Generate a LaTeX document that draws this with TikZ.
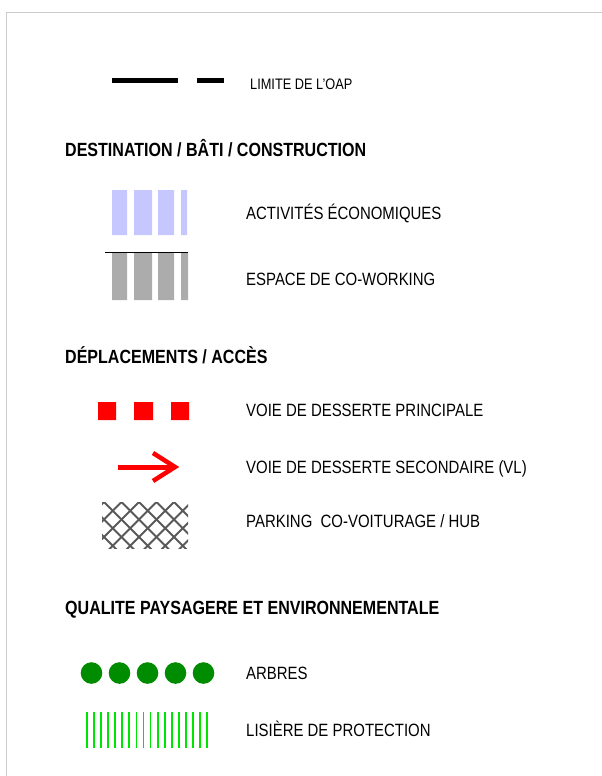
\documentclass[tikz,border=0pt]{standalone}
\usepackage{fontspec}
\setmainfont{Liberation Sans}[FakeStretch=0.84]

\begin{document}
\begin{tikzpicture}[x=1pt,y=-1pt,line cap=butt,
  label/.style={anchor=base west,inner sep=0pt,font=\fontsize{17.8}{17.8}\selectfont},
  heading/.style={anchor=base west,inner sep=0pt,font=\fontsize{19.1}{19.1}\selectfont\bfseries}]
\useasboundingbox (0,0) rectangle (602,776);
\draw[gray!40,line width=1pt] (6.5,776) -- (6.5,12.5) -- (602,12.5);

% limite
\draw[line width=5pt] (112,80) -- (178,80) (197,80) -- (224,80);
\node[label,font=\fontsize{15.2}{15.2}\selectfont] (oap) at (250,89.5) {LIMITE DE L'OAP};

% destination
\node[heading] (dest) at (65,156) {DESTINATION / BÂTI / CONSTRUCTION};
\fill[blue!22!white]
(112,190) rectangle (127,235)
(134,190) rectangle (152,235)
(158,190) rectangle (174,235)
(181,190) rectangle (187,235);
\node[label] (eco) at (246,219.5) {ACTIVITÉS ÉCONOMIQUES};
\fill[gray!65]
(112,252) rectangle (127,300)
(134,252) rectangle (152,300)
(158,252) rectangle (174,300)
(181,252) rectangle (188,300);
\draw[line width=1pt] (105,252) -- (188,252);
\node[label] (cowork) at (246,285.5) {ESPACE DE CO-WORKING};

% deplacements
\node[heading] (depl) at (65,363) {DÉPLACEMENTS / ACCÈS};
\fill[red]
(98,402) rectangle (116,420)
(134,402) rectangle (153,420)
(171,402) rectangle (189,420);
\node[label] (princ) at (246,416.5) {VOIE DE DESSERTE PRINCIPALE};
\draw[red,line width=5pt] (118,467) -- (174,467);
\draw[red,line width=4.5pt,line join=miter] (153,453) -- (175,467) -- (153,481);
\node[label] (second) at (246,473.5) {VOIE DE DESSERTE SECONDAIRE (VL)};
\begin{scope}
\clip (102,502) rectangle (188,548);
\foreach \i in {-4,...,9}
  \draw[black!65,line width=2pt] (104+17.5*\i,502) -- +(50,50) (104+17.5*\i,502) -- +(-50,50);
\end{scope}
\node[label] (hub) at (246,527.5) {PARKING\ \ CO-VOITURAGE / HUB};

% paysage
\node[heading] (pays) at (65,614) {QUALITE PAYSAGERE ET ENVIRONNEMENTALE};
\foreach \i in {0,...,4}
  \fill[green!55!black] (91.5+28*\i,673) circle (10.8);
\node[label] (arbres) at (246,679.5) {ARBRES};
\foreach \i in {0,...,17}
  \draw[green!90!black,line width=1.8pt] (87+7.06*\i,712) -- (87+7.06*\i,748);
\node[label] (lisiere) at (246,736.5) {LISIÈRE DE PROTECTION};
\end{tikzpicture}
\end{document}
